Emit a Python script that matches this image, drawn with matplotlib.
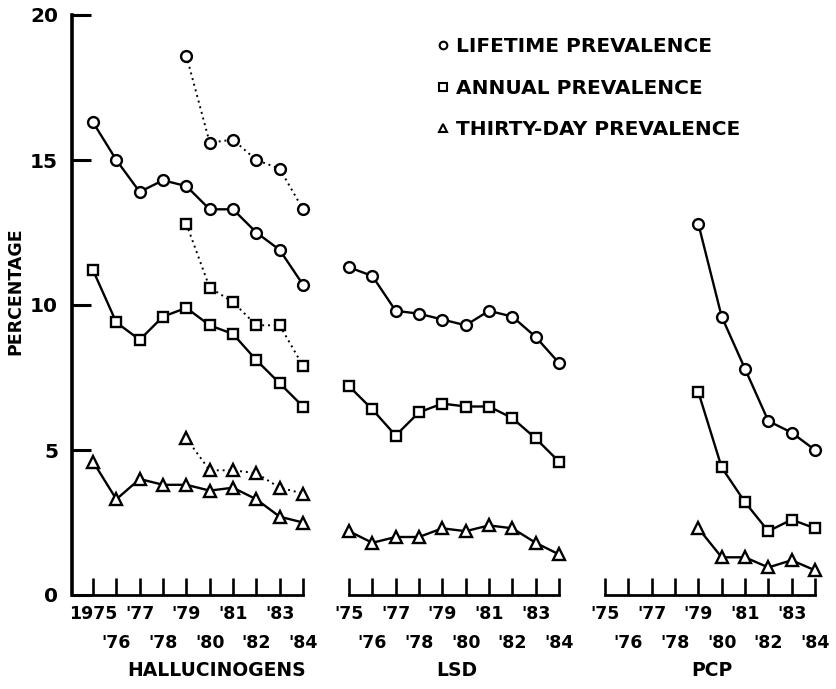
"""
Hallucinogens / LSD / PCP prevalence trends, 1975-84 (three panels, shared y).
"""
import matplotlib
matplotlib.use("Agg")
import matplotlib.pyplot as plt
from matplotlib.lines import Line2D
from matplotlib.transforms import blended_transform_factory

plt.rcParams["font.family"] = ["DejaVu Sans"]
plt.rcParams["font.weight"] = "bold"

YEARS = [1975, 1976, 1977, 1978, 1979, 1980, 1981, 1982, 1983, 1984]
YEARS_ADJ = [1979, 1980, 1981, 1982, 1983, 1984]

# hallucinogens, unadjusted (solid) and PCP-adjusted (dotted, from 1979)
HALL_LIFE = [16.3, 15.0, 13.9, 14.3, 14.1, 13.3, 13.3, 12.5, 11.9, 10.7]
HALL_ANNUAL = [11.2, 9.4, 8.8, 9.6, 9.9, 9.3, 9.0, 8.1, 7.3, 6.5]
HALL_30DAY = [4.6, 3.3, 4.0, 3.8, 3.8, 3.6, 3.7, 3.3, 2.7, 2.5]
HALL_LIFE_ADJ = [18.6, 15.6, 15.7, 15.0, 14.7, 13.3]
HALL_ANNUAL_ADJ = [12.8, 10.6, 10.1, 9.3, 9.3, 7.9]
HALL_30DAY_ADJ = [5.4, 4.3, 4.3, 4.2, 3.7, 3.5]

LSD_LIFE = [11.3, 11.0, 9.8, 9.7, 9.5, 9.3, 9.8, 9.6, 8.9, 8.0]
LSD_ANNUAL = [7.2, 6.4, 5.5, 6.3, 6.6, 6.5, 6.5, 6.1, 5.4, 4.6]
LSD_30DAY = [2.2, 1.8, 2.0, 2.0, 2.3, 2.2, 2.4, 2.3, 1.8, 1.4]

PCP_LIFE = [12.8, 9.6, 7.8, 6.0, 5.6, 5.0]
PCP_ANNUAL = [7.0, 4.4, 3.2, 2.2, 2.6, 2.3]
PCP_30DAY = [2.3, 1.3, 1.3, 0.95, 1.2, 0.85]

ODD_LABELS_FIRST = ["1975", "'77", "'79", "'81", "'83"]
ODD_LABELS = ["'75", "'77", "'79", "'81", "'83"]
EVEN_LABELS = ["'76", "'78", "'80", "'82", "'84"]
PANELS = ["HALLUCINOGENS", "LSD", "PCP"]
LEGEND = ["LIFETIME PREVALENCE", "ANNUAL PREVALENCE", "THIRTY-DAY PREVALENCE"]

W, H = 836, 689


def frac_x(px):
    return px / W


def frac_y(py):
    return 1 - py / H


def series(ax, x, y, marker, dotted=False):
    ax.plot(x, y, color="black", lw=1.4 if dotted else 1.7,
            ls=(0, (1, 2.0)) if dotted else "-",
            marker=marker, ms=7.8 if marker != "^" else 8.2, mfc="white",
            mec="black", mew=1.7, clip_on=False, zorder=3)


def style_panel(ax, left_spine, label, label_x, first_labels):
    ax.set_ylim(0, 20)
    for s in ("top", "right"):
        ax.spines[s].set_visible(False)
    ax.spines["bottom"].set_linewidth(2.0)
    if left_spine:
        ax.spines["left"].set_linewidth(2.6)
        ax.set_yticks([0, 5, 10, 15, 20])
        ax.set_yticklabels(["0", "5", "10", "15", "20"], fontsize=14.5)
        ax.tick_params(axis="y", direction="in", length=14, width=2.2, pad=10)
        ax.spines["bottom"].set_bounds(ax.get_xlim()[0], 1984)
    else:
        ax.spines["left"].set_visible(False)
        ax.set_yticks([])
        ax.spines["bottom"].set_bounds(1975, 1984)
    ax.set_xticks(YEARS[0::2])
    ax.set_xticklabels(first_labels, fontsize=12.5)
    ax.set_xticks(YEARS[1::2], minor=True)
    ax.set_xticklabels(EVEN_LABELS, minor=True, fontsize=12.5)
    ax.tick_params(axis="x", which="both", direction="in", length=12,
                   width=1.9)
    ax.tick_params(axis="x", which="major", pad=7)
    ax.tick_params(axis="x", which="minor", pad=28)
    trans = blended_transform_factory(ax.transData, ax.transAxes)
    ax.text(label_x, -0.13, label, transform=trans, ha="center",
            va="center", fontsize=13.5)


fig = plt.figure(figsize=(W / 100, H / 100), dpi=100)
top, bottom = frac_y(15), frac_y(595)
px_per_year = (303 - 93) / 9

ax1 = fig.add_axes([frac_x(72), bottom, frac_x(310 - 72), top - bottom])
ax1.set_xlim(1975 - (93 - 72) / px_per_year, 1984.3)
ax2 = fig.add_axes([frac_x(342), bottom, frac_x(224), top - bottom])
ax2.set_xlim(1974.7, 1984.3)
ax3 = fig.add_axes([frac_x(598), bottom, frac_x(224), top - bottom])
ax3.set_xlim(1974.7, 1984.3)

series(ax1, YEARS, HALL_LIFE, "o")
series(ax1, YEARS, HALL_ANNUAL, "s")
series(ax1, YEARS, HALL_30DAY, "^")
series(ax1, YEARS_ADJ, HALL_LIFE_ADJ, "o", dotted=True)
series(ax1, YEARS_ADJ, HALL_ANNUAL_ADJ, "s", dotted=True)
series(ax1, YEARS_ADJ, HALL_30DAY_ADJ, "^", dotted=True)

series(ax2, YEARS, LSD_LIFE, "o")
series(ax2, YEARS, LSD_ANNUAL, "s")
series(ax2, YEARS, LSD_30DAY, "^")

series(ax3, YEARS_ADJ, PCP_LIFE, "o")
series(ax3, YEARS_ADJ, PCP_ANNUAL, "s")
series(ax3, YEARS_ADJ, PCP_30DAY, "^")

style_panel(ax1, True, PANELS[0], 1980.3, ODD_LABELS_FIRST)
style_panel(ax2, False, PANELS[1], 1979.6, ODD_LABELS)
style_panel(ax3, False, PANELS[2], 1979.6, ODD_LABELS)

ax1.set_ylabel("PERCENTAGE", fontsize=12.5, fontweight="bold")
ax1.yaxis.set_label_coords(-0.20, 0.524)

handles = [Line2D([], [], ls="none", marker=m, ms=ms, mfc="white",
                  mec="black", mew=1.5)
           for m, ms in (("o", 5.5), ("s", 5.5), ("^", 6))]
fig.legend(handles, LEGEND, loc="upper left",
           bbox_to_anchor=(frac_x(426), frac_y(27)), frameon=False,
           fontsize=14.5, borderpad=0, handlelength=0.7, handletextpad=0.3,
           labelspacing=1.12)

fig.savefig("out.png", dpi=100)
